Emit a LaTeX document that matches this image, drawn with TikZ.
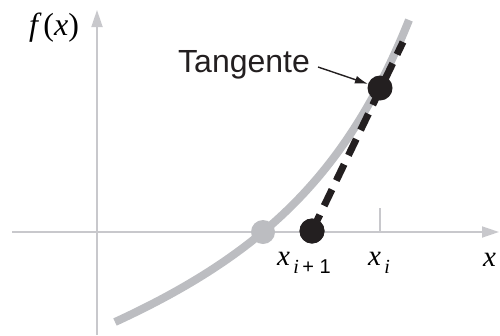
\documentclass[tikz,border=0pt]{standalone}
\usepackage{fontspec}
\setmainfont{Liberation Serif}
\setsansfont{Liberation Sans}
\usetikzlibrary{arrows.meta}
\definecolor{axisgray}{RGB}{200,200,204}
\definecolor{curvegray}{RGB}{188,189,193}
\definecolor{inkblack}{RGB}{35,31,32}
\tikzset{
  axisline/.style={draw=axisgray, line width=1.8pt, -{Triangle[length=17pt,width=11pt,fill=axisgray]}},
  curveline/.style={draw=curvegray, line width=8pt},
  blackdot/.style={circle, fill=inkblack, inner sep=0pt, minimum size=25pt},
  graydot/.style={circle, fill=curvegray, inner sep=0pt, minimum size=24pt},
  tangline/.style={draw=inkblack, line width=7pt, dash pattern=on 18pt off 10pt},
  mathlbl/.style={inner sep=0pt, anchor=base west, font=\fontsize{29}{30}\selectfont\itshape},
  sanslbl/.style={inner sep=0pt, anchor=base west, font=\fontsize{32}{34}\sffamily, text=inkblack}
}
\begin{document}
\begin{tikzpicture}[x=1pt,y=-1pt]
\useasboundingbox (0,0) rectangle (500,335);
% axes
\coordinate (yb) at (97,335);
\coordinate (yt) at (97,10);
\coordinate (xl) at (12,232);
\coordinate (xr) at (499,232);
\draw[axisline] (yb) -- (yt);
\draw[axisline] (xl) -- (xr);
% tick at x_i
\coordinate (tk1) at (380,208);
\coordinate (tk2) at (380,232);
\draw[draw=axisgray, line width=1.8pt] (tk1) -- (tk2);
% curve
\coordinate (c0) at (115,322);
\coordinate (c1) at (265,253);
\coordinate (c2) at (348,172);
\coordinate (c3) at (409,20);
\draw[curveline] (c0) .. controls (c1) and (c2) .. (c3);
% root point
\node[graydot] (r) at (263,232) {};
% tangent
\coordinate (tt) at (403,42);
\node[blackdot] (p1) at (312,231) {};
\draw[tangline] (p1.center) -- (tt);
\node[blackdot] (p2) at (380,88) {};
\node[blackdot] at (312,231) {};
% labels
\node[sanslbl] (tg) at (178,72) {Tangente};
\coordinate (ta) at (318,67);
\draw[draw=inkblack, line width=1.4pt, -{Latex[length=13pt,width=8pt]}] (ta) -- (p2);
\node[mathlbl, font=\fontsize{32}{34}\selectfont\itshape] (fx) at (29,35) {f\,\upshape(\itshape x\upshape)};
\node[mathlbl] (xi1) at (277,265) {x\raisebox{-8pt}{\fontsize{20}{22}\selectfont\,i\,\upshape\sffamily + 1}};
\node[mathlbl] (xi) at (368,265) {x\raisebox{-8pt}{\fontsize{20}{22}\selectfont\,i}};
\node[mathlbl] (xx) at (483,266) {x};
\end{tikzpicture}
\end{document}
